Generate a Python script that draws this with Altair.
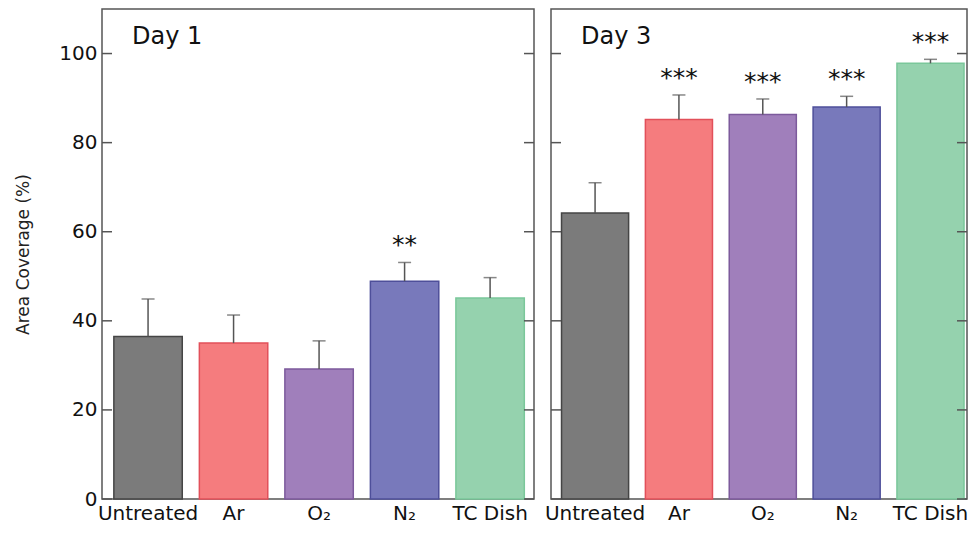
import altair as alt
import pandas as pd

categories = ["Untreated", "Ar", "O₂", "N₂", "TC Dish"]
day1_mean = [36.5, 35.0, 29.2, 48.9, 45.1]
day1_upper = [44.9, 41.3, 35.5, 53.1, 49.7]
day1_sig = ["", "", "", "**", ""]
day3_mean = [64.2, 85.2, 86.3, 88.0, 97.8]
day3_upper = [71.0, 90.7, 89.8, 90.4, 98.7]
day3_sig = ["", "***", "***", "***", "***"]
fills = ["#7b7b7b", "#f57c7e", "#a07fbb", "#7879bb", "#95d2ae"]
strokes = ["#454545", "#e2505a", "#7c5a9c", "#4e4f9a", "#7ac79a"]
tick_values = [0, 20, 40, 60, 80, 100]

FONT = "DejaVu Sans"
YDOM = [0, 110]
H = 490


def panel(day, means, uppers, sigs, width, pad_outer, align, show_y):
    df = pd.DataFrame({"cat": categories, "mean": means, "upper": uppers, "sig": sigs})
    ticks = pd.DataFrame({"tick": tick_values})
    xscale = alt.Scale(domain=categories, paddingInner=0.2, paddingOuter=pad_outer, align=align)
    yscale = alt.Scale(domain=YDOM, nice=False, zero=True)
    xaxis = alt.Axis(title=None, labelAngle=0, ticks=False, domain=False,
                     labelFontSize=20, labelFont=FONT, labelColor="#111",
                     labelBaseline="alphabetic", labelPadding=20)
    if show_y:
        yaxis = alt.Axis(title="Area Coverage (%)", values=tick_values, ticks=False,
                         domain=False, grid=False, labelFontSize=20, labelFont=FONT,
                         labelColor="#111", labelPadding=5, titleFontSize=17,
                         titleFont=FONT, titleFontWeight="normal", titleColor="#222",
                         titlePadding=26)
    else:
        yaxis = None

    def X():
        return alt.X("cat:N", sort=categories, scale=xscale, axis=xaxis)

    def Y(field):
        return alt.Y(field, scale=yscale, axis=yaxis)

    base = alt.Chart(df)
    bars = base.mark_bar(strokeWidth=1.5).encode(
        x=X(),
        y=Y("mean:Q"),
        fill=alt.Fill("cat:N", scale=alt.Scale(domain=categories, range=fills), legend=None),
        stroke=alt.Stroke("cat:N", scale=alt.Scale(domain=categories, range=strokes), legend=None),
    )
    err = base.mark_rule(color="#555", strokeWidth=1.5).encode(
        x=X(), y=Y("mean:Q"), y2="upper:Q",
    )
    cap = base.mark_tick(color="#555", thickness=1.5, size=13).encode(
        x=X(), y=Y("upper:Q"),
    )
    stars = base.mark_text(fontSize=25, font=FONT, color="#111", baseline="alphabetic",
                           dy=-9).encode(
        x=X(), y=Y("upper:Q"), text="sig:N",
    )
    tl = alt.Chart(ticks).mark_rule(color="#555", strokeWidth=1.5).encode(
        y=Y("tick:Q"), x=alt.value(0), x2=alt.value(10),
    )
    tr = alt.Chart(ticks).mark_rule(color="#555", strokeWidth=1.5).encode(
        y=Y("tick:Q"), x=alt.value(width - 10), x2=alt.value(width),
    )
    label = alt.Chart(pd.DataFrame({"t": [day]})).mark_text(
        fontSize=24, font=FONT, color="#111", align="left", baseline="alphabetic"
    ).encode(text="t:N", x=alt.value(30), y=alt.value(35))
    return alt.layer(bars, err, cap, stars, tl, tr, label).properties(width=width, height=H)


left = panel("Day 1", day1_mean, day1_upper, day1_sig, 432, 0.126, 0.55, True)
right = panel("Day 3", day3_mean, day3_upper, day3_sig, 416, 0.0805, 0.78, False)

chart = alt.hconcat(left, right, spacing=17, bounds="flush").properties(
    padding={"left": 6, "top": 0, "right": 0, "bottom": 0},
    background="white",
).configure_view(stroke="#555", strokeWidth=1.5)

chart.save("out.html", embed_options={"renderer": "svg", "actions": False})
